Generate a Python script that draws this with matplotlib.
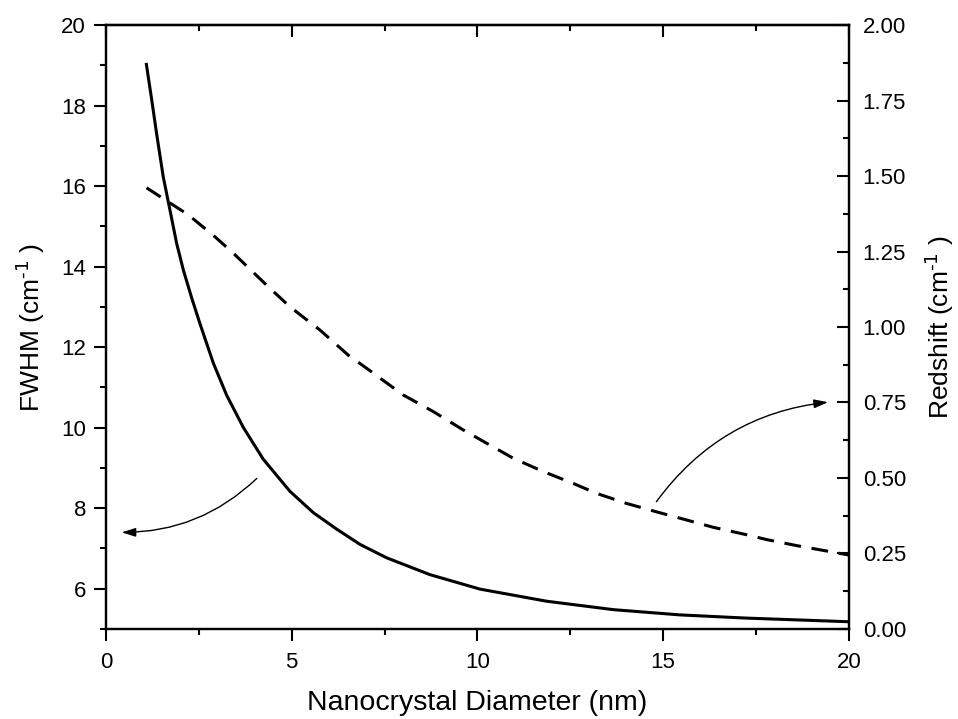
import numpy as np
import matplotlib
matplotlib.use("Agg")
import matplotlib.pyplot as plt
from matplotlib.ticker import MultipleLocator

plt.rcParams['font.family'] = ['Liberation Sans', 'DejaVu Sans']
plt.rcParams['mathtext.default'] = 'regular'

# FWHM (left axis) vs diameter
fwhm_x = [1.08, 1.23, 1.36, 1.54, 1.72, 1.90, 2.08, 2.31, 2.53, 2.89, 3.25, 3.70, 4.23, 4.95, 5.58,
          6.21, 6.84, 7.55, 8.72, 10.07, 11.86, 13.66, 15.45, 17.25, 20.0]
fwhm_y = [19.06, 18.14, 17.31, 16.23, 15.41, 14.58, 13.92, 13.21, 12.58, 11.60, 10.80, 10.00, 9.22, 8.42, 7.89,
          7.48, 7.10, 6.77, 6.35, 5.99, 5.69, 5.48, 5.35, 5.27, 5.18]

# Redshift (right axis) vs diameter
shift_x = [1.09, 2.22, 2.93, 3.43, 4.32, 4.95, 5.76, 6.52, 7.02, 8.0, 8.81, 9.62, 10.25, 10.97, 11.78,
           12.58, 13.21, 14.01, 14.82, 15.63, 16.34, 17.25, 17.79, 18.6, 20.0]
shift_y = [1.461, 1.371, 1.299, 1.244, 1.139, 1.067, 0.99, 0.907, 0.863, 0.775, 0.72, 0.659, 0.615, 0.565, 0.521,
           0.482, 0.449, 0.416, 0.388, 0.361, 0.337, 0.312, 0.296, 0.276, 0.245]

fig = plt.figure(figsize=(9.58, 7.19), dpi=100)
ax = fig.add_axes([0.1107, 0.1252, 0.886 - 0.1107, 0.9652 - 0.1252])
ax2 = ax.twinx()

ax.plot(fwhm_x, fwhm_y, color='black', lw=2.2, solid_capstyle='butt', solid_joinstyle='round')
ax2.plot(shift_x, shift_y, color='black', lw=2.2, dashes=(5.5, 3.5))

ax.set_xlim(0, 20)
ax.set_ylim(5, 20)
ax2.set_ylim(0, 2.0)

ax.xaxis.set_major_locator(MultipleLocator(5))
ax.xaxis.set_minor_locator(MultipleLocator(2.5))
ax.yaxis.set_major_locator(MultipleLocator(2))
ax.yaxis.set_minor_locator(MultipleLocator(1))
ax2.yaxis.set_major_locator(MultipleLocator(0.25))
ax2.yaxis.set_minor_locator(MultipleLocator(0.125))
ax2.yaxis.set_major_formatter(plt.FormatStrFormatter('%.2f'))
ax.set_yticks([6, 8, 10, 12, 14, 16, 18, 20])

for a in (ax, ax2):
    for s in a.spines.values():
        s.set_linewidth(1.6)

ax.tick_params(axis='both', which='major', direction='out', length=8.5, width=1.5, labelsize=16, pad=6)
ax.tick_params(axis='both', which='minor', direction='out', length=4.5, width=1.5)
ax.tick_params(axis='x', which='major', pad=8)
ax.tick_params(axis='y', which='both', right=False)
ax.tick_params(axis='x', which='both', top=False)

ax2.tick_params(axis='y', which='major', direction='in', length=8.5, width=1.5, labelsize=16, pad=10)
ax2.tick_params(axis='y', which='minor', direction='in', length=4.5, width=1.5)

top = ax.secondary_xaxis('top')
top.xaxis.set_major_locator(MultipleLocator(5))
top.xaxis.set_minor_locator(MultipleLocator(2.5))
top.tick_params(which='major', direction='in', length=8.5, width=1.5, labeltop=False)
top.tick_params(which='minor', direction='in', length=4.5, width=1.5)
top.spines['top'].set_linewidth(1.6)

ax.set_xlabel('Nanocrystal Diameter (nm)', fontsize=20.5, labelpad=12)
ax.set_ylabel(r'FWHM (cm$^{\text{-1}}$ )', fontsize=19, labelpad=10)
ax2.set_ylabel(r'Redshift (cm$^{\text{-1}}$ )', fontsize=19, labelpad=12)

arrow = dict(arrowstyle='-|>,head_length=0.7,head_width=0.22', color='black', lw=1.0,
             shrinkA=0, shrinkB=0, mutation_scale=12)
ax.annotate('', xy=(0.42, 7.40), xytext=(4.06, 8.74),
            arrowprops=dict(connectionstyle='arc3,rad=-0.2', **arrow))
ax2.annotate('', xy=(19.44, 0.751), xytext=(14.82, 0.4215),
             arrowprops=dict(connectionstyle='arc3,rad=-0.22', **arrow))

fig.savefig('out.png', dpi=100)
